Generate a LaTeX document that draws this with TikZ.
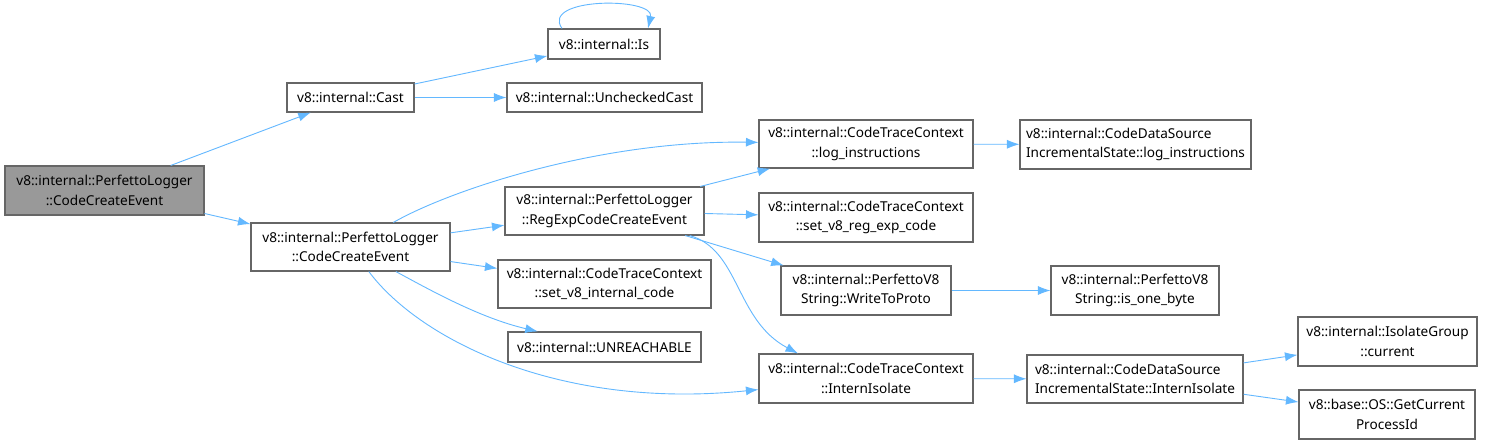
\documentclass[tikz,border=0pt]{standalone}
\usepackage{fontspec}
\setmainfont{Noto Sans}
\usepackage{tikz}
\usetikzlibrary{arrows.meta}
\definecolor{edgeblue}{HTML}{63B8FF}
\definecolor{boxgray}{HTML}{666666}
\definecolor{rootgray}{HTML}{999999}

\begin{document}
\begin{tikzpicture}[x=1pt, y=-1pt,
    % Estilos de las cajas y de las llamadas
    func/.style={draw=boxgray, line width=1.1pt, fill=white, inner sep=0pt, align=center,
      font=\fontsize{13.6}{19.5}\selectfont},
    root/.style={func, fill=rootgray},
    call/.style={draw=edgeblue, line width=0.9pt, -{Latex[length=12.5pt,width=9pt]}}
  ]
  \useasboundingbox[fill=white] (0,0) rectangle (1489,445);

  % 1. Nodo raiz y primer nivel
  \node[root, minimum width=199pt, minimum height=49pt] (main) at (104.5,190.5) {v8::internal::PerfettoLogger\\::CodeCreateEvent};
  \node[func, minimum width=127pt, minimum height=29pt] (cast) at (350.5,97.5) {v8::internal::Cast};
  \node[func, minimum width=199pt, minimum height=48pt] (cce) at (350.5,247) {v8::internal::PerfettoLogger\\::CodeCreateEvent};

  % 2. Segundo nivel
  \node[func, minimum width=112pt, minimum height=30pt] (is) at (604,44) {v8::internal::Is};
  \node[func, minimum width=195pt, minimum height=29pt] (unchk) at (604.5,97.5) {v8::internal::UncheckedCast};
  \node[func, minimum width=199pt, minimum height=48pt] (regexp) at (604.5,211) {v8::internal::PerfettoLogger\\::RegExpCodeCreateEvent};
  \node[func, minimum width=213pt, minimum height=48pt] (setint) at (604.5,284) {v8::internal::CodeTraceContext\\::set\_v8\_internal\_code};
  \node[func, minimum width=193pt, minimum height=30pt] (unreach) at (604.5,347) {v8::internal::UNREACHABLE};

  % 3. Tercer nivel
  \node[func, minimum width=214pt, minimum height=48pt] (ctclog) at (866,144) {v8::internal::CodeTraceContext\\::log\_instructions};
  \node[func, minimum width=214pt, minimum height=49pt] (ctcreg) at (866,217.5) {v8::internal::CodeTraceContext\\::set\_v8\_reg\_exp\_code};
  \node[func, minimum width=170pt, minimum height=49pt] (wtp) at (866,290.5) {v8::internal::PerfettoV8\\String::WriteToProto};
  \node[func, minimum width=214pt, minimum height=49pt] (ctciso) at (866,378.5) {v8::internal::CodeTraceContext\\::InternIsolate};

  % 4. Cuarto y quinto nivel
  \node[func, align=left, minimum width=231pt, minimum height=49pt] (cdslog) at (1135.5,144.5) {v8::internal::CodeDataSource\\IncrementalState::log\_instructions};
  \node[func, minimum width=168pt, minimum height=49pt] (onebyte) at (1135,290.5) {v8::internal::PerfettoV8\\String::is\_one\_byte};
  \node[func, align=left, minimum width=216pt, minimum height=48pt] (cdsiso) at (1135,379) {v8::internal::CodeDataSource\\IncrementalState::InternIsolate};
  \node[func, minimum width=179pt, minimum height=49pt] (isogrp) at (1387.5,341.5) {v8::internal::IsolateGroup\\::current};
  \node[func, minimum width=176pt, minimum height=49pt] (procid) at (1387,414.5) {v8::base::OS::GetCurrent\\ProcessId};

  % 5. Llamadas
  \draw[call] (main) -- (cast);
  \draw[call] (main) -- (cce);
  \draw[call] (cast) -- (is);
  \draw[call] (cast) -- (unchk);
  \draw[call] ([xshift=-42pt]is.north) .. controls (540,-3) and (655,-3) .. ([xshift=44pt]is.north);

  \draw[call] (cce) .. controls (450,190) and (600,140) .. (ctclog);
  \draw[call] (cce) -- (regexp);
  \draw[call] (cce) -- (setint);
  \draw[call] (cce) .. controls (430,290) and (480,318) .. (unreach);
  \draw[call] (cce) .. controls (420,340) and (560,410) .. (ctciso);

  \draw[call] (regexp) -- (ctclog);
  \draw[call] (regexp) -- (ctcreg);
  \draw[call] (regexp) -- (wtp);
  \draw[call] (regexp) .. controls (740,250) and (735,320) .. ([xshift=-68pt]ctciso.north);

  \draw[call] (ctclog) -- (cdslog);
  \draw[call] (wtp) -- (onebyte);
  \draw[call] (ctciso) -- (cdsiso);
  \draw[call] (cdsiso) -- (isogrp);
  \draw[call] (cdsiso) -- (procid);

\end{tikzpicture}
\end{document}
